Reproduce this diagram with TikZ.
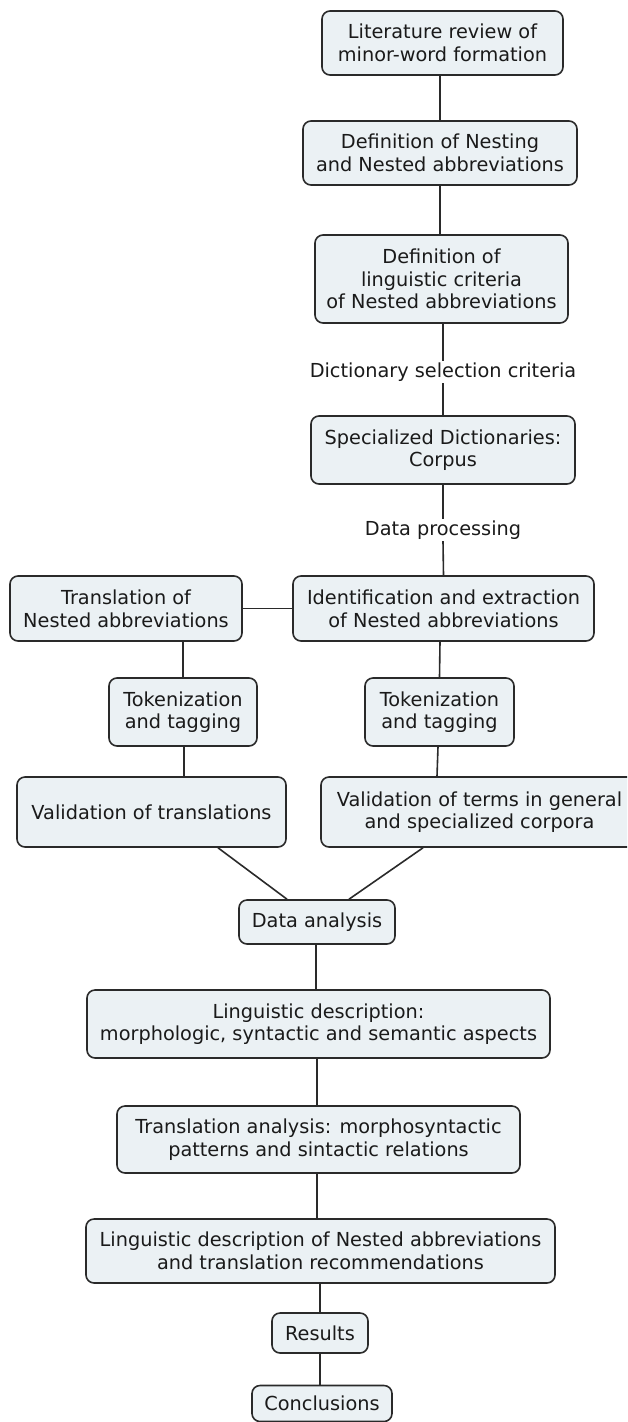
\documentclass[tikz,border=0pt]{standalone}
\usepackage{fontspec}
\setmainfont{DejaVu Sans}
\usetikzlibrary{calc}
\definecolor{boxfill}{HTML}{EBF1F4}
\definecolor{boxline}{HTML}{2A2A2A}
\definecolor{ink}{HTML}{1A1A1A}
\begin{document}
\begin{tikzpicture}[x=1pt,y=-1pt,
  stage/.style={draw=boxline, fill=boxfill, line width=1.6pt, rounded corners=8pt,
    align=center, inner sep=0pt, text=ink, font=\fontsize{19.3}{22.6}\selectfont},
  lbl/.style={inner sep=1.5pt, text=ink, font=\fontsize{19.3}{22.6}\selectfont},
  link/.style={draw=boxline, line width=1.6pt}]
\useasboundingbox (0,0) rectangle (627,1422);
\clip (0,0) rectangle (627,1422);

% main column
\node[stage, minimum width=241pt, minimum height=64pt] (n1) at (442.5,43)
  {Literature review of\\minor-word formation};
\node[stage, minimum width=274pt, minimum height=64pt] (n2) at (440,153)
  {Definition of Nesting\\and Nested abbreviations};
\node[stage, minimum width=253pt, minimum height=88pt] (n3) at (441.5,279)
  {Definition of\\linguistic criteria\\of Nested abbreviations};
\node[lbl] (l1) at (443,372) {Dictionary selection criteria};
\node[stage, minimum width=264pt, minimum height=68pt] (n4) at (443,450)
  {Specialized Dictionaries:\\Corpus};
\node[lbl] (l2) at (443,530) {Data processing};
\node[stage, minimum width=301pt, minimum height=65pt] (n5) at (443.5,608.5)
  {Identification and extraction\\of Nested abbreviations};

% translation branch
\node[stage, minimum width=232pt, minimum height=65pt] (tr) at (126,608.5)
  {Translation of\\Nested abbreviations};
\node[stage, minimum width=148pt, minimum height=68pt] (tokL) at (183,712)
  {Tokenization\\and tagging};
\node[stage, minimum width=269pt, minimum height=70pt] (valL) at (151.5,812)
  {Validation of translations};

% extraction branch
\node[stage, minimum width=149pt, minimum height=68pt] (tokR) at (439.5,712)
  {Tokenization\\and tagging};
\node[stage, minimum width=317pt, minimum height=70pt] (valR) at (479.5,812)
  {Validation of terms in general\\and specialized corpora};

% analysis and outcome
\node[stage, minimum width=156pt, minimum height=44pt] (da) at (317,922)
  {Data analysis};
\node[stage, minimum width=463pt, minimum height=68pt] (ld) at (318.5,1024)
  {Linguistic description:\\morphologic, syntactic and semantic aspects};
\node[stage, minimum width=403pt, minimum height=67pt] (ta) at (318.5,1139.5)
  {Translation analysis: morphosyntactic\\patterns and sintactic relations};
\node[stage, minimum width=469pt, minimum height=64pt] (ln) at (320.5,1251)
  {Linguistic description of Nested abbreviations\\and translation recommendations};
\node[stage, minimum width=96pt, minimum height=40pt] (res) at (320,1333)
  {Results};
\node[stage, minimum width=140pt, minimum height=36pt] (con) at (322,1403.5)
  {Conclusions};

% connectors
\draw[link] ($(n1.south)+(-2.5,0)$) -- (n2.north);
\draw[link] (n2.north |- n2.south) -- ($(n3.north)+(-1.5,0)$);
\draw[link] ($(n3.south)+(1.5,0)$) -- (l1.north);
\draw[link] (l1.south) -- (n4.north);
\draw[link] (n4.south) -- (l2.north);
\draw[link] (l2.south) -- (n5.north);
\draw[link] (tr.east) -- (n5.west);
\draw[link] ($(tr.south)+(57,0)$) -- (tokL.north);
\draw[link] ($(n5.south)+(-3.5,0)$) -- (tokR.north);
\draw[link] ($(tokL.south)+(1,0)$) -- ($(valL.north)+(32.5,0)$);
\draw[link] ($(tokR.south)+(-1.5,0)$) -- ($(valR.north)+(-42.5,0)$);
\draw[link] ($(valL.south)+(66.5,0)$) -- ($(da.north)+(-30,0)$);
\draw[link] ($(valR.south)+(-56.5,0)$) -- ($(da.north)+(32,0)$);
\draw[link] ($(da.south)+(-1,0)$) -- ($(ld.north)+(-2.5,0)$);
\draw[link] ($(ld.south)+(-1.5,0)$) -- ($(ta.north)+(-1.5,0)$);
\draw[link] ($(ta.south)+(-1.5,0)$) -- ($(ln.north)+(-3.5,0)$);
\draw[link] ($(ln.south)+(-0.5,0)$) -- (res.north);
\draw[link] (res.south) -- ($(con.north)+(-2,0)$);
\end{tikzpicture}
\end{document}
